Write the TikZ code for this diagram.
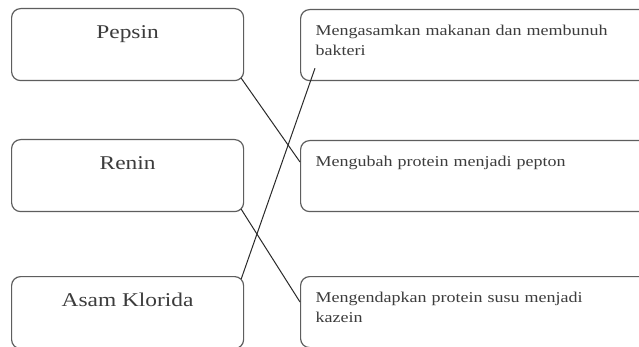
\documentclass[tikz,border=0pt]{standalone}
\usepackage{fontspec}
\setmainfont{Liberation Serif}[FakeStretch=1.2]
\usepackage{tikz}
\usetikzlibrary{calc}
\definecolor{boxline}{HTML}{5E5E5E}
\definecolor{inkgray}{HTML}{3C3C3C}
\definecolor{penline}{HTML}{2A2A2A}
\tikzstyle{leftbox} = [
    draw=boxline,
    line width=1.2pt,
    rounded corners=9pt,
    anchor=north west,
    minimum width=232pt,
    inner sep=0pt,
    text height=30pt,
    text depth=42pt,
    text=inkgray,
    font=\fontsize{19.5}{23}\selectfont
    ]
\tikzstyle{rightbox} = [
    draw=boxline,
    line width=1.2pt,
    rounded corners=9pt,
    anchor=north west,
    inner xsep=15pt,
    inner ysep=0pt,
    text width=320pt,
    align=left,
    text height=26pt,
    text depth=45pt,
    text=inkgray,
    font=\fontsize{15}{20}\selectfont
    ]
\tikzstyle{match} = [
    draw=penline,
    line width=1pt
    ]

\begin{document}
\begin{tikzpicture}[x=1pt,y=-1pt]
\clip (0,0) rectangle (639,347);
\fill[white] (0,0) rectangle (639,347);
% enzim dan zat
\node[leftbox] (pepsin) at (11,8) {Pepsin};
\node[leftbox] (renin) at (11,139) {Renin};
\node[leftbox] (asam) at (11,276) {Asam Klorida};
% fungsi
\node[rightbox] (asamkan) at (300,9) {Mengasamkan makanan dan membunuh\\bakteri};
\node[rightbox] (ubah) at (300,140) {Mengubah protein menjadi pepton};
\node[rightbox] (endap) at (300,276) {Mengendapkan protein susu menjadi\\kazein};
% pasangan
\draw[match] ([shift={(-3pt,3pt)}]pepsin.south east) -- ([yshift=-22pt]ubah.north west);
\draw[match] ([shift={(-3pt,3pt)}]renin.south east) -- ([yshift=-26pt]endap.north west);
\draw[match] ([shift={(-3pt,-3pt)}]asam.north east) -- ([shift={(15pt,13pt)}]asamkan.south west);
\end{tikzpicture}
\end{document}
